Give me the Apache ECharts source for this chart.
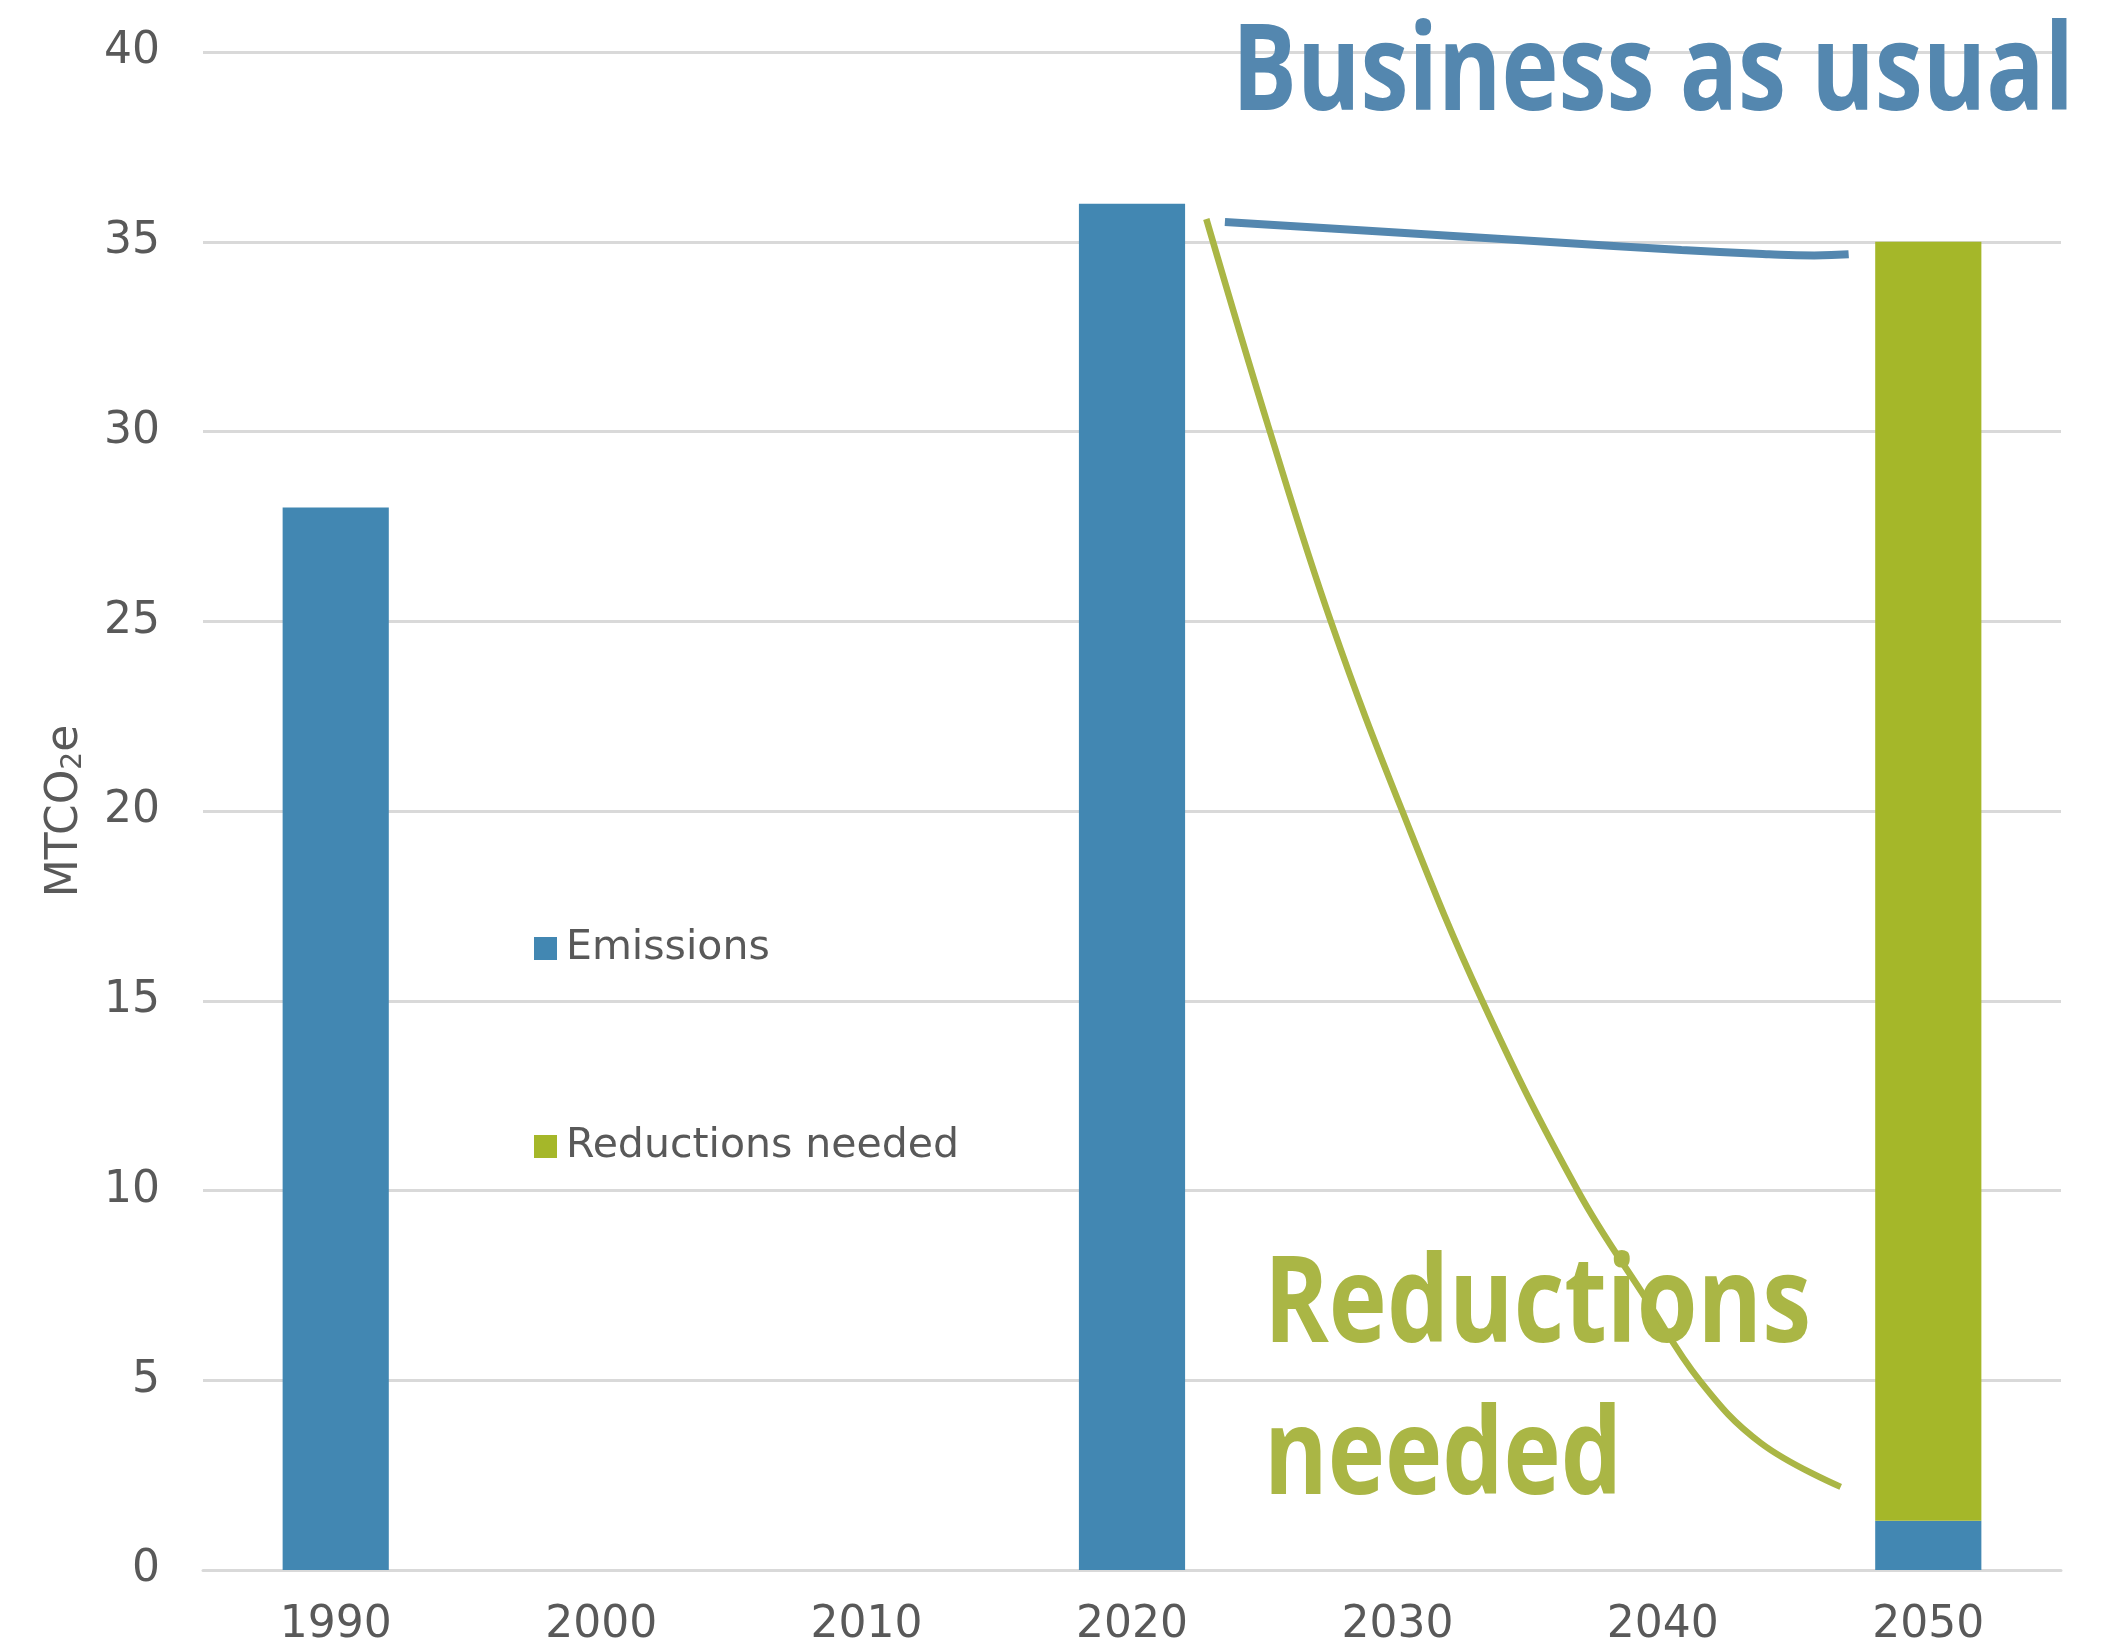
<!DOCTYPE html>
<html>
<head>
<meta charset="utf-8">
<script src="https://cdn.jsdelivr.net/npm/echarts@6/dist/echarts.min.js"></script>
<style>
  html, body { margin: 0; padding: 0; background: #ffffff; }
  #chart { width: 2126px; height: 1648px; }
</style>
</head>
<body>
<div id="chart"></div>
<script>
// Emissions pathway: historical, current and 2050 target (MTCO2e)
const years = ['1990', '2000', '2010', '2020', '2030', '2040', '2050'];
const emissions = [28, null, null, 36, null, null, 1.3];
const reductionsNeeded = [null, null, null, null, null, null, 33.7];

// Hand-drawn guide curves, in value-axis units (category i spans i..i+1)
const bauPath = [[3.85, 35.52], [4.39, 35.29], [5.06, 35.0], [5.57, 34.78],
                 [5.90, 34.67], [6.07, 34.64], [6.20, 34.67]];
const cutPath = [[3.78, 35.60], [4.02, 29.99], [4.25, 24.98], [4.52, 19.97], [4.82, 14.99],
                 [5.18, 9.99], [5.44, 7.11], [5.64, 4.98], [5.87, 3.34], [6.17, 2.19]];

const BLUE = '#4287b2';
const GREEN = '#a5b729';
const NOTE_BLUE = '#5487af';
const NOTE_GREEN = '#aab645';
const GREY_TEXT = '#595959';
const GRID_LINE = '#d9d9d9';
const BASE_FONT = '"DejaVu Sans", "Liberation Sans", sans-serif';
const NOTE_FONT_SPEC = 'bold 120px "Open Sans", "Liberation Sans", sans-serif';

// Condensed headline text: squeeze a bold face horizontally to a set width
const measureCtx = document.createElement('canvas').getContext('2d');
function squeeze(text, width) {
  measureCtx.font = NOTE_FONT_SPEC;
  return width / measureCtx.measureText(text).width;
}

function noteText(text, x, y, width, color) {
  return {
    type: 'text',
    x: x,
    y: y,
    scaleX: squeeze(text, width),
    z: 10,
    style: {
      text: text,
      font: NOTE_FONT_SPEC,
      fill: color,
      textVerticalAlign: 'middle'
    }
  };
}

const chart = echarts.init(document.getElementById('chart'), null, { renderer: 'canvas' });

chart.setOption({
  animation: false,
  backgroundColor: '#ffffff',
  grid: { left: 203, right: 65, top: 52, bottom: 78, containLabel: false },
  legend: {
    orient: 'vertical',
    left: 529,
    top: 923,
    itemWidth: 23,
    itemHeight: 23,
    itemGap: 157,
    icon: 'rect',
    textStyle: { fontFamily: BASE_FONT, fontSize: 41, color: GREY_TEXT, lineHeight: 40, padding: [0, 0, 0, 4] },
    data: ['Emissions', 'Reductions needed']
  },
  xAxis: [
    {
      type: 'category',
      data: years,
      axisLine: { show: true, lineStyle: { color: GRID_LINE, width: 3 } },
      axisTick: { show: false },
      axisLabel: { fontFamily: BASE_FONT, fontSize: 44, color: GREY_TEXT, margin: 34 }
    },
    {
      type: 'value',
      min: 0,
      max: 7,
      show: false
    }
  ],
  yAxis: {
    type: 'value',
    min: 0,
    max: 40,
    interval: 5,
    name: '{a|MTCO}{sub|2}{a|e}',
    nameLocation: 'middle',
    nameGap: 115,
    nameTextStyle: {
      fontFamily: BASE_FONT,
      color: GREY_TEXT,
      rich: {
        a: { fontFamily: BASE_FONT, fontSize: 44, lineHeight: 50, color: GREY_TEXT, verticalAlign: 'bottom' },
        sub: { fontFamily: BASE_FONT, fontSize: 28, lineHeight: 28, color: GREY_TEXT, verticalAlign: 'bottom' }
      }
    },
    axisLine: { show: false },
    axisTick: { show: false },
    axisLabel: { fontFamily: BASE_FONT, fontSize: 44, color: GREY_TEXT, margin: 43 },
    splitLine: { lineStyle: { color: GRID_LINE, width: 3 } }
  },
  series: [
    {
      name: 'Emissions',
      type: 'bar',
      stack: 'total',
      barWidth: '40%',
      itemStyle: { color: BLUE },
      data: emissions
    },
    {
      name: 'Reductions needed',
      type: 'bar',
      stack: 'total',
      barWidth: '40%',
      itemStyle: { color: GREEN },
      data: reductionsNeeded
    },
    {
      name: 'bau-guide',
      type: 'line',
      xAxisIndex: 1,
      smooth: 0.5,
      symbol: 'none',
      silent: true,
      z: 5,
      lineStyle: { color: NOTE_BLUE, width: 8, cap: 'butt' },
      data: bauPath
    },
    {
      name: 'cut-guide',
      type: 'line',
      xAxisIndex: 1,
      smooth: 0.4,
      symbol: 'none',
      silent: true,
      z: 5,
      lineStyle: { color: NOTE_GREEN, width: 6.5, cap: 'butt' },
      data: cutPath
    }
  ],
  graphic: [
    noteText('Business as usual', 1232, 76, 842, NOTE_BLUE),
    noteText('Reductions', 1264, 1308, 547, NOTE_GREEN),
    noteText('needed', 1264, 1460, 358, NOTE_GREEN)
  ]
});
</script>
</body>
</html>
